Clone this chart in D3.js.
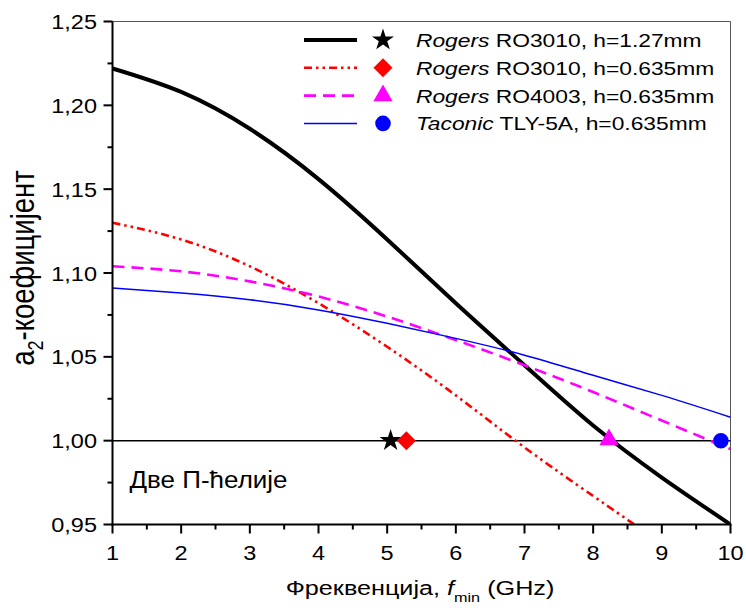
<!DOCTYPE html>
<html><head><meta charset="utf-8">
<script src="https://cdn.jsdelivr.net/npm/d3@7"></script>
<style>body{margin:0;background:#fff}svg{display:block;font-family:Arial,"Liberation Sans",sans-serif}</style>
</head><body><svg id="c" width="746" height="612"></svg>
<script>
const freqBlack = [1,2,3,4,5,6,7,8,9,10];
const blackVals = [1.222,1.208,1.186,1.156,1.120,1.082,1.045,1.009,0.978,0.950];
const freqRed = [1,2,3,4,5,6,7,8,8.6];
const redVals = [1.130,1.120,1.104,1.082,1.056,1.027,0.996,0.967,0.950];
const freqMag = [1,2,3,4,5,6,7,8,9,10];
const magVals = [1.104,1.101,1.095,1.086,1.074,1.060,1.045,1.029,1.012,0.995];
const freqBlue = [1,2,3,4,5,6,7,8,9,10];
const blueVals = [1.091,1.088,1.084,1.078,1.070,1.061,1.051,1.039,1.027,1.014];
const markerX = [5.05,5.28,8.23,9.86];
const markerY = [1.0,1.0,1.0,1.0];
const legendItalic = ["Rogers","Rogers","Rogers","Taconic"];
const legendRest = [" RO3010, h=1.27mm"," RO3010, h=0.635mm"," RO4003, h=0.635mm"," TLY-5A, h=0.635mm"];
const xTicks = [1,2,3,4,5,6,7,8,9,10];
const yTicks = [0.95,1.00,1.05,1.10,1.15,1.20,1.25];

const svg = d3.select("#c");
const L=112.5, R=730.5, T=21.5, B=524.5;
const x = d3.scaleLinear().domain([1,10]).range([L,R]);
const y = d3.scaleLinear().domain([0.95,1.25]).range([B,T]);
const fmt = v => d3.format(".2f")(v).replace(".",",");
const SX = 1.2;
const stext = (px,py,size,anchor,sx,rot) => svg.append("text")
  .attr("transform",`translate(${px},${py}) scale(${sx},1)` + (rot?` rotate(${rot})`:""))
  .attr("text-anchor",anchor).attr("font-size",size);

// frame top/right
svg.append("line").attr("x1",L).attr("x2",R).attr("y1",T).attr("y2",T).attr("stroke","#555").attr("stroke-width",1);
svg.append("line").attr("x1",R).attr("x2",R).attr("y1",T).attr("y2",B).attr("stroke","#555").attr("stroke-width",1);

// reference line 1.00
svg.append("line").attr("x1",x(1)).attr("x2",x(10)).attr("y1",y(1)).attr("y2",y(1)).attr("stroke","#000").attr("stroke-width",1.5);

const defs = svg.append("defs");
defs.append("clipPath").attr("id","clip").append("rect").attr("x",L).attr("y",T).attr("width",R-L).attr("height",B-T);
const g = svg.append("g").attr("clip-path","url(#clip)");
const line = (xs,ys) => d3.line().curve(d3.curveNatural).x((d,i)=>x(xs[i])).y((d,i)=>y(ys[i]))(xs);

const series = [
 {xs:freqBlack, ys:blackVals, color:"#000", w:4, dash:null},
 {xs:freqRed, ys:redVals, color:"#ff0000", w:2.6, dash:"8,4,2.5,4,2.5,4"},
 {xs:freqMag, ys:magVals, color:"#ff00ff", w:2.6, dash:"12,7"},
 {xs:freqBlue, ys:blueVals, color:"#0000ff", w:1.5, dash:null}
];
series.forEach(s=>{
 g.append("path").attr("d",line(s.xs,s.ys)).attr("fill","none").attr("stroke",s.color).attr("stroke-width",s.w).attr("stroke-dasharray",s.dash);
});

// axes
const xAxis = svg.append("g").attr("transform",`translate(0,${B})`);
xAxis.append("line").attr("x1",L-1).attr("x2",R+1).attr("stroke","#000").attr("stroke-width",2);
d3.range(1,10.01,0.5).forEach(v=>{
 const major = Math.abs(v-Math.round(v))<1e-6;
 xAxis.append("line").attr("x1",x(v)).attr("x2",x(v)).attr("y1",0).attr("y2",major?9:5).attr("stroke","#000").attr("stroke-width",2);
});
xTicks.forEach(v=>{
 stext(x(v),B+35,21,"middle",1.12).text(v);
});
const yAxis = svg.append("g").attr("transform",`translate(${L},0)`);
yAxis.append("line").attr("y1",T).attr("y2",B+1).attr("stroke","#000").attr("stroke-width",2);
d3.range(0,13).forEach(i=>{
 const v = 0.95+i*0.025;
 const major = i%2===0;
 yAxis.append("line").attr("x1",0).attr("x2",major?-9:-5).attr("y1",y(v)).attr("y2",y(v)).attr("stroke","#000").attr("stroke-width",2);
});
yTicks.forEach(v=>{
 stext(L-15.5,y(v)+7.5,21,"end",1.12).text(fmt(v));
});

// axis titles
const xt = stext(420,595,21,"middle",SX);
xt.append("tspan").text("Фреквенција, ");
xt.append("tspan").attr("font-style","italic").text("f");
xt.append("tspan").attr("font-size",13.5).attr("dy",7).text("min");
xt.append("tspan").attr("dy",-7).text(" (GHz)");

const yt = stext(33.5,(T+B)/2-5,27.5,"middle",SX,-90);
yt.append("tspan").text("a");
yt.append("tspan").attr("font-size",18).attr("dy",8).text("2");
yt.append("tspan").attr("dy",-8).text("-коефицијент");

// annotation
stext(129.5,487.5,23,"start",1.13).text("Две П-ћелије");

// markers
const symSize = [150, 180, 160, 190];
const symColor = ["#000","#ff0000","#ff00ff","#0000ff"];
const sym = [d3.symbolStar, d3.symbolSquare, d3.symbolTriangle, d3.symbolCircle];
const drawMarker = (i,cx,cy)=>{
 let t = `translate(${cx},${cy})`;
 if(i===1) t += " rotate(45)";
 svg.append("path").attr("d",d3.symbol().type(sym[i]).size(symSize[i])()).attr("transform",t).attr("fill",symColor[i]);
};
markerX.forEach((mx,i)=>drawMarker(i,x(mx),y(markerY[i])+(i===2?-1:0)));

// legend
const ly0=40, lstep=27.8;
series.forEach((s,i)=>{
 const yy = ly0+i*lstep;
 svg.append("line").attr("x1",304).attr("x2",357).attr("y1",yy).attr("y2",yy).attr("stroke",s.color).attr("stroke-width",s.w).attr("stroke-dasharray",s.dash);
 drawMarker(i,383,yy);
 const t = stext(416,yy+7,19,"start",SX);
 t.append("tspan").attr("font-style","italic").text(legendItalic[i]);
 t.append("tspan").text(legendRest[i]);
});
</script></body></html>
